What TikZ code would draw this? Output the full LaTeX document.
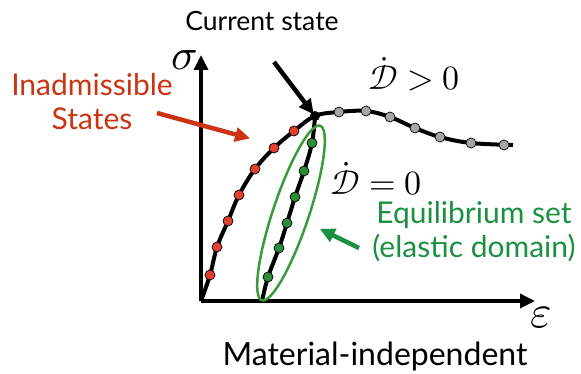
\documentclass[tikz,border=0pt]{standalone}
\usepackage{fontspec}
\usepackage{unicode-math}
\setmainfont{Lato}
\setmathfont{Latin Modern Math}
\usetikzlibrary{arrows.meta}
\begin{document}
\begin{tikzpicture}[x=1pt,y=-1pt,font=\fontsize{30}{34}\selectfont,>={Triangle[length=15pt,width=14pt]}]
  \definecolor{warn}{HTML}{CC3311}
  \definecolor{eqgreen}{HTML}{1A9040}
  \definecolor{ring}{HTML}{3C9A3C}
  \definecolor{dotred}{HTML}{E2402E}
  \definecolor{dotgreen}{HTML}{2E8B37}
  \definecolor{dotgray}{HTML}{A6A6A6}
  \tikzset{axis/.style={->,line width=3.5pt},
    curve/.style={line width=4pt,line join=round},
    pt/.style={draw=black,line width=0.7pt},
    pointer/.style={->,line width=4.5pt,shorten >=2pt},
    lbl/.style={align=center,inner sep=0pt}}
  \useasboundingbox (0,0) rectangle (581,374);
  % axes
  \coordinate (origin) at (201,301);
  \coordinate (ytop) at (201,55);
  \coordinate (xend) at (535,301);
  \draw[axis] (origin) -- (ytop);
  \draw[axis] (origin) -- (xend);
  \node[lbl,font=\fontsize{44}{44}\selectfont] (sig) at (185,60) {$\sigma$};
  \node[lbl,font=\fontsize{46}{46}\selectfont] (eps) at (541,318) {$\varepsilon$};
  % response curve
  \coordinate (cur) at (315,116);
  \coordinate (unl) at (262,301);
  \draw[curve] plot[smooth,tension=0.6] coordinates {(201,301) (210,275) (217,247) (228,221) (239,195) (255,169) (274,148) (294,131) (315,116) (339,112) (366,111) (390,117) (415,128) (440,137) (471,143) (513,145)};
  \draw[curve] plot[smooth,tension=0.6] coordinates {(unl) (268,277) (279,248) (287,223) (295,197) (304,171) (312,143) (cur)};
  % dots
  \foreach \x/\y in {210/275,217/247,228/221,239/195,255/169,274/148,294/131}
    \filldraw[pt,fill=dotred] (\x,\y) circle (5);
  \foreach \x/\y in {339/112,366/111,390/117,415/128,440/137,471/143,504/145}
    \filldraw[pt,fill=dotgray] (\x,\y) circle (5);
  \foreach \x/\y in {268/277,279/248,287/223,295/197,304/171,312/143}
    \filldraw[pt,fill=dotgreen] (\x,\y) circle (5);
  \fill (cur) circle (5);
  % elastic domain
  \draw[ring,line width=2.5pt] (291,213) ellipse[x radius=92,y radius=18,rotate=71.5];
  % labels
  \node[lbl,font=\fontsize{26.5}{28}\selectfont] (curlbl) at (262,21) {Current state};
  \node[lbl,font=\fontsize{34}{34}\selectfont] (dpos) at (414,74) {$\dot{\mathcal{D}}>0$};
  \node[lbl,font=\fontsize{34}{34}\selectfont] (dzero) at (376,179) {$\dot{\mathcal{D}}=0$};
  \node[lbl,text=warn] (inad) at (92,102) {Inadmissible\\States};
  \node[lbl,text=eqgreen] (eqlbl) at (474,232) {Equilibrium set\\(elastic domain)};
  \node[lbl,font=\fontsize{32}{34}\selectfont] (mat) at (375,356) {Material-independent};
  % pointers
  \coordinate (redtip) at (252,139);
  \coordinate (greentip) at (318,228);
  \draw[pointer] (274,62) -- (cur);
  \draw[pointer,warn] (157,113) -- (redtip);
  \draw[pointer,eqgreen] (359,248) -- (greentip);
\end{tikzpicture}
\end{document}
